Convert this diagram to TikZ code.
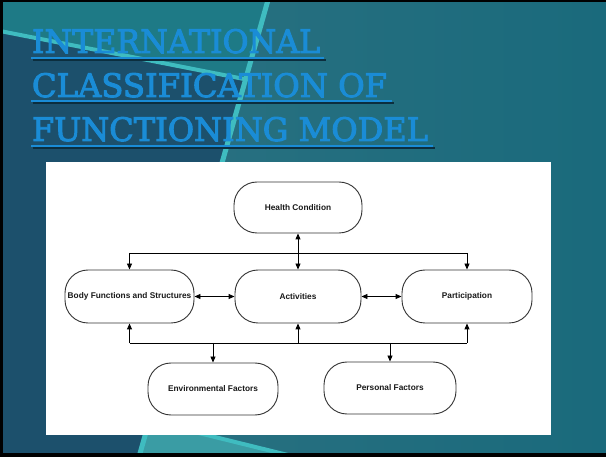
\documentclass[tikz,border=0pt]{standalone}
\usepackage{fontspec}
\usepackage{graphicx}
\usetikzlibrary{arrows.meta}
\newfontfamily\diagfont{Liberation Sans}
\newfontfamily\titlefont[FakeBold=3]{DejaVu Serif}
\definecolor{bgright}{HTML}{1A6A7C}
\definecolor{bgdark}{HTML}{1C506C}
\definecolor{bgtop}{HTML}{1E7A86}
\definecolor{bglight}{HTML}{3A9CA4}
\definecolor{stripe}{HTML}{3FBCC0}
\definecolor{titleblue}{HTML}{1A8CD6}
\definecolor{titleshadow}{HTML}{0C2E3E}
\definecolor{edge}{HTML}{333333}
\tikzset{
  box/.style={draw=edge, line width=0.9pt, rounded corners=23pt, fill=white,
    minimum height=52pt, inner sep=2pt, text=black!90,
    font=\diagfont\bfseries\fontsize{8.3}{10}\selectfont},
  conn/.style={draw=black, line width=0.9pt},
  arr/.style={conn, -{Triangle[length=6pt,width=5pt]}},
  darr/.style={conn, {Triangle[length=6pt,width=5pt]}-{Triangle[length=6pt,width=5pt]}},
  ttl/.style={anchor=base west, inner sep=0pt, outer sep=0pt},
  uline/.style={line width=2pt},
}
\newcommand{\ttltext}[2]{\resizebox{#1pt}{24pt}{\titlefont #2}}
\begin{document}
\begin{tikzpicture}[x=1pt,y=-1pt]
\useasboundingbox (0,0) rectangle (606,457);
% background
\shade[left color=bgright!90!white!95!black, right color=bgright] (0,0) rectangle (606,457);
\fill[bgdark] (0,0) -- (268,0) -- (139,457) -- (0,457) -- cycle;
\fill[bgtop] (0,0) -- (268,0) -- (246,78) -- (0,30) -- cycle;
\fill[bglight] (148,420) -- (200,433) -- (300,457) -- (139,457) -- cycle;
\draw[stripe, line width=5pt] (268,0) -- (139,457);
\draw[stripe, line width=4pt] (0,31) -- (244,79);
\draw[stripe, line width=4pt] (150,421) -- (300,458);
% black border
\fill[black] (0,0) rectangle (3,457);
\fill[black] (0,0) rectangle (606,2);
\fill[black] (0,453) rectangle (606,457);
% underline shadows
\begin{scope}[shift={(1.6,1.6)}, titleshadow]
\draw[uline] (31,58) -- (324,58);
\draw[uline] (31,101) -- (392,101);
\draw[uline] (31,146) -- (433,146);
\end{scope}
% title
\node[ttl, text=titleblue] (t1) at (32,53) {\ttltext{288}{INTERNATIONAL}};
\node[ttl, text=titleblue] (t2) at (32,97) {\ttltext{355}{CLASSIFICATION OF}};
\node[ttl, text=titleblue] (t3) at (32,141) {\ttltext{396}{FUNCTIONING MODEL}};
\draw[titleblue, uline] (31,58) -- (324,58);
\draw[titleblue, uline] (31,101) -- (392,101);
\draw[titleblue, uline] (31,146) -- (433,146);
% panel
\fill[white] (46,162) rectangle (551,435);
% nodes
\node[box, minimum width=128pt, minimum height=51pt] (hc) at (298,207.5) {Health Condition};
\node[box, minimum width=129pt, minimum height=53pt] (body) at (129.5,296.5) {Body Functions and Structures};
\node[box, minimum width=126pt, minimum height=53pt] (act) at (298,296.5) {Activities};
\node[box, minimum width=130pt, minimum height=53pt] (part) at (467,296.5) {Participation};
\node[box, minimum width=130pt] (env) at (213,389) {Environmental Factors};
\node[box, minimum width=132pt] (pers) at (390,388) {Personal Factors};
% junctions
\coordinate (jl) at (body.north |- 0,253);
\coordinate (jr) at (part.north |- 0,253);
\coordinate (bl) at (body.south |- 0,343);
\coordinate (br) at (part.south |- 0,343);
\coordinate (bm) at (act.south |- 0,343);
\coordinate (be) at (env.north |- 0,343);
\coordinate (bp) at (pers.north |- 0,343);
% connectors
\draw[darr] (hc.south) -- (act.north);
\draw[conn] (jl) -- (jr);
\draw[arr] (jl) -- (body.north);
\draw[arr] (jr) -- (part.north);
\draw[darr] (body.east) -- (act.west);
\draw[darr] (act.east) -- (part.west);
\draw[conn] (bl) -- (br);
\draw[arr] (bl) -- (body.south);
\draw[arr] (bm) -- (act.south);
\draw[arr] (br) -- (part.south);
\draw[arr] (be) -- (env.north);
\draw[arr] (bp) -- (pers.north);
\end{tikzpicture}
\end{document}
